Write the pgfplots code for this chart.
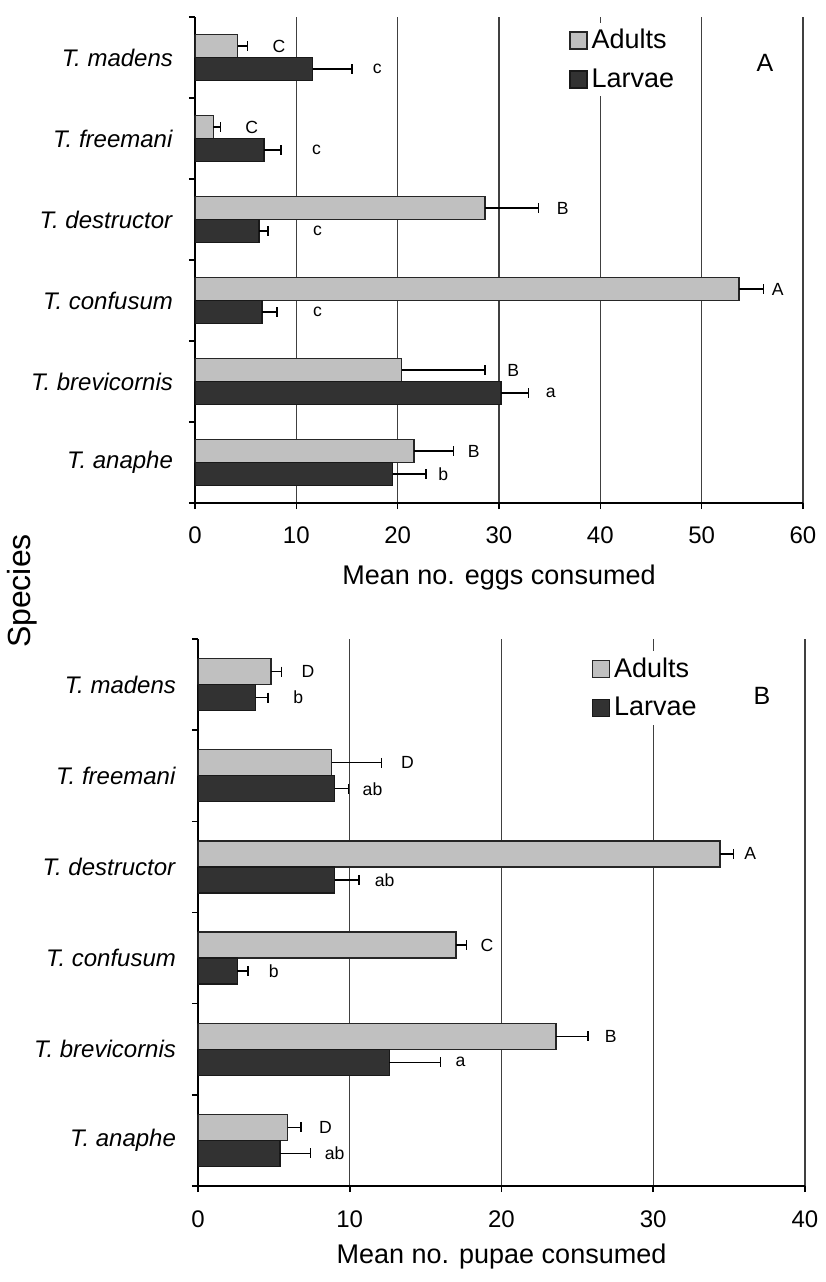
\documentclass[border=0pt]{standalone}
\usepackage{fontspec}
\setmainfont{Liberation Sans}
\usepackage{pgfplots}
\usepackage{pgfplotstable}
\pgfplotsset{compat=1.18}

\definecolor{adultc}{RGB}{192,192,192}
\definecolor{larvac}{RGB}{50,50,50}
\tikzset{lett/.style={font=\fontsize{8.8}{10}\selectfont, inner sep=0pt}}

% idx: 0 anaphe, 1 brevicornis, 2 confusum, 3 destructor, 4 freemani, 5 madens
\pgfplotstableread{
idx ad adE la laE
0 21.6 3.9 19.5 3.3
1 20.4 8.2 30.2 2.7
2 53.7 2.4 6.6 1.5
3 28.6 5.3 6.3 0.9
4 1.8 0.7 6.8 1.7
5 4.2 1.0 11.6 3.9
}\eggs

\pgfplotstableread{
idx ad adE la laE
0 5.9 0.9 5.4 2.0
1 23.6 2.1 12.6 3.4
2 17.0 0.7 2.6 0.7
3 34.4 0.9 9.0 1.6
4 8.8 3.3 9.0 0.9
5 4.8 0.7 3.8 0.8
}\pupae

\pgfplotsset{
  common/.style={
    scale only axis,
    xbar,
    anchor=south west,
    axis x line*=bottom,
    axis y line*=left,
    axis line style={-, black, line width=0.9pt},
    tick align=outside,
    major tick length=3pt,
    tick style={black, line width=0.8pt},
    ymin=-0.5, ymax=5.5,
    ytick={-0.5,0.5,...,5.5},
    yticklabels={,,,,,,},
    extra y ticks={0,1,2,3,4,5},
    extra y tick labels={\textit{T. anaphe},\textit{T. brevicornis},\textit{T. confusum},\textit{T. destructor},\textit{T. freemani},\textit{T. madens}},
    extra y tick style={major tick length=0pt},
    yticklabel style={font=\fontsize{12}{14}\selectfont, anchor=east, xshift=-7.5pt},
    /pgf/number format/assume math mode=true,
    xticklabel style={font=\fontsize{12}{14}\selectfont, yshift=-5.5pt},
    xmajorgrids,
    major grid style={black!75, line width=0.7pt},
    legend cell align=left,
    legend image code/.code={\draw[#1, line width=0.6pt] (0pt,-4.25pt) rectangle (8.5pt,4.25pt);},
    legend style={anchor=north west, draw=none, fill=white, inner xsep=1pt, inner ysep=1pt,
      font=\fontsize{13.5}{15}\selectfont, row sep=4.5pt},
    xlabel style={font=\fontsize{13.5}{15}\selectfont, at={(rel axis cs:0.5,0)}, anchor=center},
  },
  errs/.style={
    error bars/x dir=plus, error bars/x explicit,
    error bars/error bar style={black, line width=0.7pt},
    error bars/error mark=|,
    error bars/error mark options={black, mark size=2.5pt, line width=0.7pt}},
  adbar/.style={fill=adultc, draw=black!85, line width=0.7pt, errs},
  labar/.style={fill=larvac, draw=black!90, line width=0.7pt, errs},
}

\begin{document}
\begin{tikzpicture}
% Panel A
\begin{axis}[common,
  at={(97.5pt,-251.5pt)},
  width=304pt, height=243pt,
  xmin=0, xmax=60, xtick={0,10,...,60},
  bar width=11.5pt,
  xlabel={Mean no. eggs consumed},
  xlabel style={yshift=-37.5pt},
  legend style={at={(rel axis cs:0.612,0.988)}},
]
\addplot[adbar, bar shift=5.75pt] table[x=ad, y=idx, x error=adE] {\eggs};
\addlegendentry{Adults}
\addplot[labar, bar shift=-5.75pt] table[x=la, y=idx, x error=laE] {\eggs};
\addlegendentry{Larvae}
\node[lett] at (axis cs:8.3,5.142) {C};
\node[lett] at (axis cs:18.0,4.858) {c};
\node[lett] at (axis cs:5.6,4.142) {C};
\node[lett] at (axis cs:12.0,3.858) {c};
\node[lett] at (axis cs:36.3,3.142) {B};
\node[lett] at (axis cs:12.1,2.858) {c};
\node[lett] at (axis cs:57.5,2.142) {A};
\node[lett] at (axis cs:12.1,1.858) {c};
\node[lett] at (axis cs:31.4,1.142) {B};
\node[lett] at (axis cs:35.1,0.858) {a};
\node[lett] at (axis cs:27.5,0.142) {B};
\node[lett] at (axis cs:24.5,-0.142) {b};
\end{axis}

% Panel B
\begin{axis}[common,
  at={(99pt,-593pt)},
  width=303.5pt, height=273.5pt,
  xmin=0, xmax=40, xtick={0,10,...,40},
  bar width=13pt,
  xlabel={Mean no. pupae consumed},
  xlabel style={yshift=-35.5pt},
  xticklabel style={yshift=-0.5pt},
  legend style={at={(rel axis cs:0.645,0.978)}},
]
\addplot[adbar, bar shift=6.5pt] table[x=ad, y=idx, x error=adE] {\pupae};
\addlegendentry{Adults}
\addplot[labar, bar shift=-6.5pt] table[x=la, y=idx, x error=laE] {\pupae};
\addlegendentry{Larvae}
\node[lett] at (axis cs:7.25,5.143) {D};
\node[lett] at (axis cs:6.6,4.857) {b};
\node[lett] at (axis cs:13.8,4.143) {D};
\node[lett] at (axis cs:11.5,3.857) {ab};
\node[lett] at (axis cs:36.4,3.143) {A};
\node[lett] at (axis cs:12.3,2.857) {ab};
\node[lett] at (axis cs:19.05,2.143) {C};
\node[lett] at (axis cs:5.0,1.857) {b};
\node[lett] at (axis cs:27.2,1.143) {B};
\node[lett] at (axis cs:17.3,0.857) {a};
\node[lett] at (axis cs:8.4,0.143) {D};
\node[lett] at (axis cs:9.0,-0.143) {ab};
\end{axis}

\node[font=\fontsize{12.5}{14}\selectfont] at (382.5pt,-31.5pt) {A};
\node[font=\fontsize{12.5}{14}\selectfont] at (381pt,-348pt) {B};
\node[font=\fontsize{16}{18}\selectfont, rotate=90] at (11pt,-295.5pt) {Species};

\pgfresetboundingbox
\useasboundingbox (0,0) rectangle (413pt,-641pt);
\end{tikzpicture}
\end{document}
